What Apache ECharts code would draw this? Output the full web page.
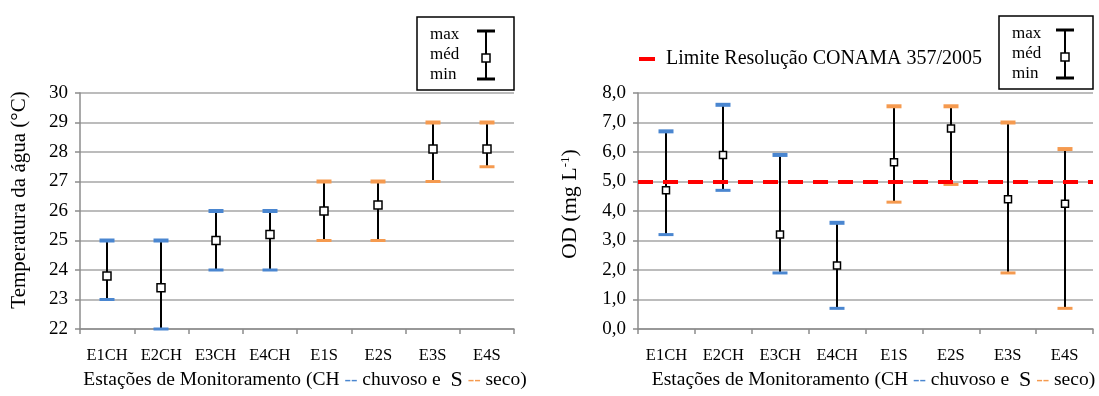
<!DOCTYPE html>
<html>
<head>
<meta charset="utf-8">
<script src="https://cdn.jsdelivr.net/npm/echarts@6/dist/echarts.min.js"></script>
<style>
html,body{margin:0;padding:0;background:#fff;}
#c{width:1099px;height:396px;}
</style>
</head>
<body>
<div id="c"></div>
<script>
var categories = ['E1CH','E2CH','E3CH','E4CH','E1S','E2S','E3S','E4S'];
var season = ['CH','CH','CH','CH','S','S','S','S'];
var tempMin = [23, 22, 24, 24, 25, 25, 27, 27.5];
var tempMed = [23.8, 23.4, 25.0, 25.2, 26.0, 26.2, 28.1, 28.1];
var tempMax = [25, 25, 26, 26, 27, 27, 29, 29];
var odMin = [3.2, 4.7, 1.9, 0.7, 4.3, 4.9, 1.9, 0.7];
var odMed = [4.7, 5.9, 3.2, 2.15, 5.65, 6.8, 4.4, 4.25];
var odMax = [6.7, 7.6, 5.9, 3.6, 7.55, 7.55, 7.0, 6.1];
var odLimit = 5;
var tempTicks = {min: 22, max: 30, interval: 1};
var odTicks = {min: 0, max: 8, interval: 1};

var FONT = 'Liberation Serif';
var BLUE = '#4a86d0', ORANGE = '#f59a4f';
var seasonColor = {CH: BLUE, S: ORANGE};

function rows(mn, md, mx) {
  return categories.map(function (c, i) { return [i, mn[i], md[i], mx[i]]; });
}

function makeRender(sq) {
  return function (params, api) {
    var i = api.value(0);
    var pMin = api.coord([i, api.value(1)]);
    var pMed = api.coord([i, api.value(2)]);
    var pMax = api.coord([i, api.value(3)]);
    var col = seasonColor[season[i]];
    var x = Math.round(pMin[0]);
    var capW = 15;
    return {
      type: 'group',
      children: [
        {type: 'line', shape: {x1: x, y1: pMin[1], x2: x, y2: pMax[1]}, style: {stroke: '#000', lineWidth: 2}},
        {type: 'rect', shape: {x: x - capW / 2, y: pMax[1] - 2, width: capW, height: 4}, style: {fill: col}},
        {type: 'rect', shape: {x: x - capW / 2, y: pMin[1] - 1.5, width: capW, height: 3}, style: {fill: col}},
        {type: 'rect', shape: {x: x - sq / 2, y: pMed[1] - sq / 2, width: sq, height: sq}, style: {fill: '#fff', stroke: '#000', lineWidth: 1.5}}
      ]
    };
  };
}

function xAxisCfg(idx) {
  return {
    type: 'category', gridIndex: idx, data: categories, boundaryGap: true,
    axisLine: {lineStyle: {color: '#8c8c8c', width: 1.5}},
    axisTick: {show: true, inside: false, length: 5, lineStyle: {color: '#8c8c8c', width: 1.5}},
    axisLabel: {color: '#000', fontFamily: FONT, fontSize: 16.5, margin: 18},
    nameLocation: 'middle', nameGap: 40,
    name: '{a|Estações de Monitoramento (CH }{b|--}{a| chuvoso e  }{s|S}{a| }{o|--}{a| seco)}',
    nameTextStyle: {
      padding: [0, 0, 0, 16],
      rich: {
        a: {fontFamily: FONT, fontSize: 19.5, color: '#000'},
        s: {fontFamily: FONT, fontSize: 22, color: '#000'},
        b: {fontFamily: FONT, fontSize: 19.5, color: BLUE},
        o: {fontFamily: FONT, fontSize: 19.5, color: ORANGE}
      }
    }
  };
}

function yAxisCfg(idx, t, fmt, name, gap, style) {
  return {
    type: 'value', gridIndex: idx, min: t.min, max: t.max, interval: t.interval,
    axisLine: {show: true, lineStyle: {color: '#8c8c8c', width: 1.5}},
    axisTick: {show: true, inside: false, length: 5, lineStyle: {color: '#8c8c8c', width: 1.5}},
    splitLine: {show: true, lineStyle: {color: '#a6a6a6', width: 1.5}},
    axisLabel: {color: '#000', fontFamily: FONT, fontSize: 19, margin: 12, formatter: fmt},
    name: name, nameLocation: 'middle', nameGap: gap, nameRotate: 90,
    nameTextStyle: style
  };
}

var chart = echarts.init(document.getElementById('c'), null, {renderer: 'canvas'});

function legendBox(x, y, w, h) {
  var tx = x + 13, ix = x + w - 28;
  return [
    {type: 'rect', shape: {x: x, y: y, width: w, height: h}, style: {fill: '#fff', stroke: '#000', lineWidth: 1.5}, z: 10},
    {type: 'text', style: {x: tx, y: y + 18, text: 'max', fontFamily: FONT, fontSize: 17, fill: '#000', verticalAlign: 'middle'}, z: 11},
    {type: 'text', style: {x: tx, y: y + 38, text: 'méd', fontFamily: FONT, fontSize: 17, fill: '#000', verticalAlign: 'middle'}, z: 11},
    {type: 'text', style: {x: tx, y: y + 58, text: 'min', fontFamily: FONT, fontSize: 17, fill: '#000', verticalAlign: 'middle'}, z: 11},
    {type: 'line', shape: {x1: ix, y1: y + 14, x2: ix, y2: y + 62}, style: {stroke: '#000', lineWidth: 2}, z: 11},
    {type: 'rect', shape: {x: ix - 9, y: y + 12.5, width: 18, height: 3}, style: {fill: '#000'}, z: 11},
    {type: 'rect', shape: {x: ix - 9, y: y + 60.5, width: 18, height: 3}, style: {fill: '#000'}, z: 11},
    {type: 'rect', shape: {x: ix - 4, y: y + 37, width: 8, height: 8}, style: {fill: '#fff', stroke: '#000', lineWidth: 1.5}, z: 12}
  ];
}

var graphics = legendBox(417, 17, 97, 73).concat(legendBox(999, 16, 94, 73)).concat([
  {type: 'rect', shape: {x: 639, y: 57, width: 16, height: 4}, style: {fill: '#ff0000'}, z: 10},
  {type: 'text', style: {x: 666, y: 59, text: 'Limite Resolução CONAMA 357/2005', fontFamily: FONT, fontSize: 20, fill: '#000', verticalAlign: 'middle'}, z: 10}
]);

chart.setOption({
  animation: false,
  backgroundColor: '#fff',
  grid: [
    {left: 80, right: 1099 - 514, top: 93, bottom: 396 - 330, containLabel: false},
    {left: 638, right: 1099 - 1093, top: 93, bottom: 396 - 330, containLabel: false}
  ],
  xAxis: [xAxisCfg(0), xAxisCfg(1)],
  yAxis: [
    yAxisCfg(0, tempTicks, function (v) { return String(v); }, 'Temperatura da água (°C)', 50,
      {fontFamily: FONT, fontSize: 21, color: '#000', padding: [0, 0, 0, 22]}),
    yAxisCfg(1, odTicks, function (v) { return v.toFixed(1).replace('.', ','); }, '{a|OD (mg L}{sup|-1}{a|)}', 56,
      {padding: [0, 0, 0, 14], rich: {a: {fontFamily: FONT, fontSize: 22, color: '#000'}, sup: {fontFamily: FONT, fontSize: 13, color: '#000', padding: [0, 0, 10, 0]}}})
  ],
  series: [
    {type: 'custom', xAxisIndex: 0, yAxisIndex: 0, renderItem: makeRender(8), data: rows(tempMin, tempMed, tempMax), z: 3},
    {type: 'custom', xAxisIndex: 1, yAxisIndex: 1, renderItem: makeRender(7), data: rows(odMin, odMed, odMax), z: 3},
    {type: 'line', xAxisIndex: 1, yAxisIndex: 1, data: [], z: 6, silent: true,
      markLine: {silent: true, symbol: 'none', label: {show: false}, z: 6,
        lineStyle: {color: '#ff0000', width: 4, type: [15, 10]},
        data: [{yAxis: odLimit}]}}
  ],
  graphic: graphics
});
</script>
</body>
</html>
